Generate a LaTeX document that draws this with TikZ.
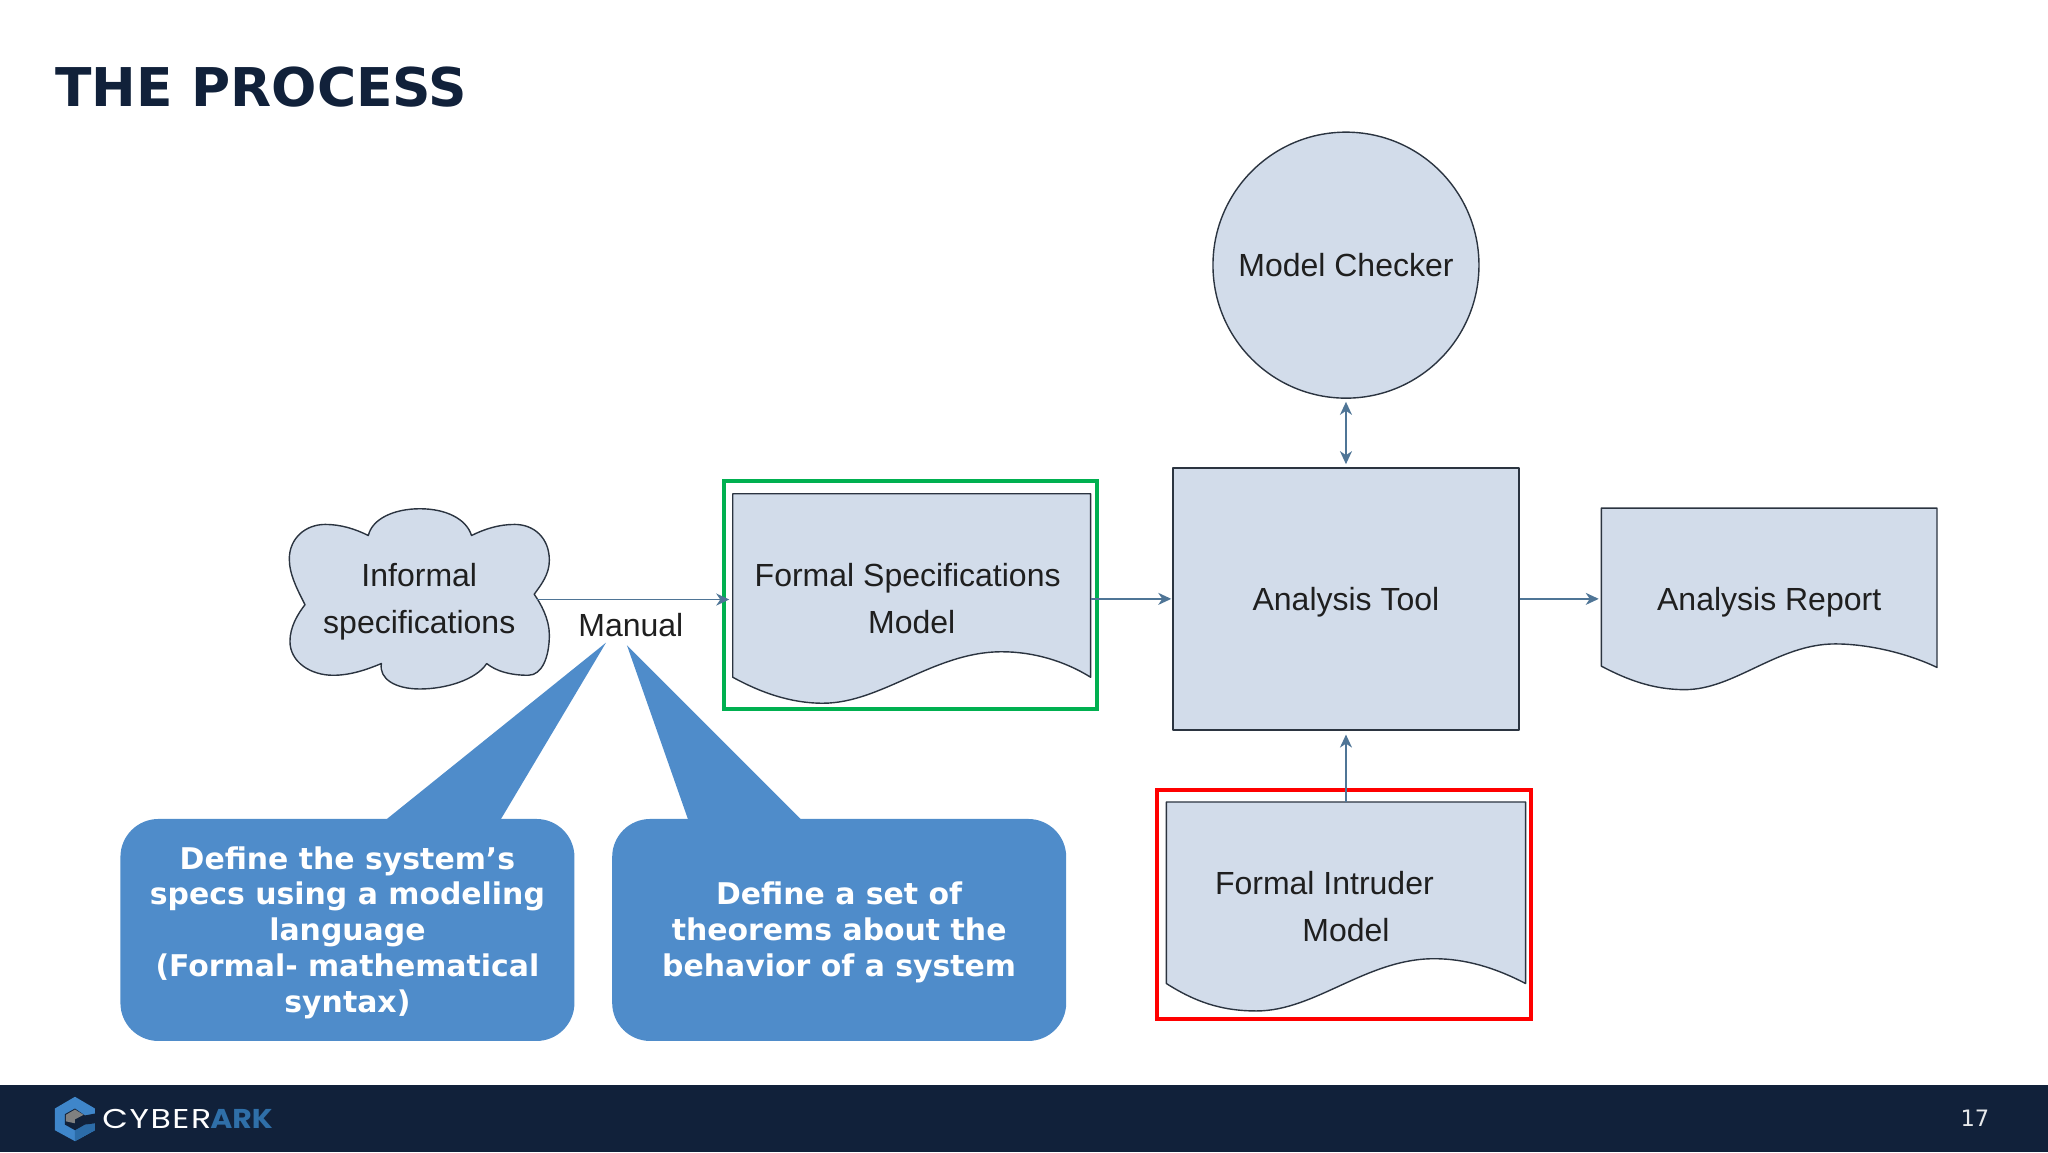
\documentclass[tikz,border=0pt]{standalone}
\usepackage{fontspec}
\setmainfont{Liberation Sans}
\newfontfamily\slidefont{DejaVu Sans}
\newfontfamily\cyberfont[FakeStretch=1.22,LetterSpace=6]{Poppins}
\newfontfamily\arkfont[FakeStretch=1.1]{Poppins}
\usetikzlibrary{arrows.meta}
\definecolor{navy}{HTML}{11213A}
\definecolor{shapefill}{HTML}{D2DCEA}
\definecolor{shapeline}{HTML}{2B3440}
\definecolor{wire}{HTML}{4F7596}
\definecolor{bubble}{HTML}{4F8CCA}
\definecolor{framegreen}{HTML}{00B050}
\definecolor{logoblue}{HTML}{3F86CA}
\definecolor{logodeep}{HTML}{2C6CA8}
\definecolor{arkblue}{HTML}{2F6FA8}
\tikzset{
  shapestyle/.style={draw=shapeline,fill=shapefill,line width=0.7pt,line join=round},
  labeltext/.style={font=\fontsize{16}{23.5}\selectfont,text=black!88,align=center,inner sep=0pt},
  docbox/.style={labeltext,minimum width=#1},
  wirearrow/.style={draw=wire,line width=0.9pt,>={Stealth[length=6.5pt,width=6pt,inset=2pt]}},
  bubbletext/.style={font=\slidefont\bfseries\fontsize{14.95}{17.9}\selectfont,text=white,align=center,inner sep=0pt},
  bubblebox/.style={fill=bubble,rounded corners=19pt,minimum width=227pt,minimum height=111pt,inner sep=0pt},
}
\begin{document}
\begin{tikzpicture}[x=0.65306pt,y=-0.65306pt]
\useasboundingbox (0,0) rectangle (1568,882);

% title
\node [font=\slidefont\bfseries\fontsize{26.7}{30}\selectfont,text=navy,anchor=base west,inner sep=0pt] (title) at (42,81.5) {THE PROCESS};

% footer band
\fill [navy] (0,831) rectangle (1568,882);
\node [font=\slidefont\fontsize{11.3}{14}\selectfont,text=white!90!navy,inner sep=0pt] (pagenum) at (1512,856) {17};

%% The logo
\fill [logoblue] (57.4,839.7) -- (72.7,848.7) -- (72.7,865.3) -- (57.4,873.7) -- (42,865.3) -- (42,848.7) -- cycle;
\fill [logodeep] (57.4,873.7) -- (72.7,865.3) -- (72.7,860) -- (65,861) -- (57.4,865.3) -- cycle;
\fill [navy] (73,852.5) -- (65,854) -- (57.4,848.7) -- (49.7,853) -- (49.7,861) -- (57.4,865.3) -- (65,861) -- (73,860) -- cycle;
\fill [gray] (50.5,853.5) -- (57.4,849.5) -- (64,853.5) -- (57.4,857) -- (57.4,860) -- (50.5,858.5) -- cycle;
\node [anchor=base west,inner sep=0pt,text=white] (logotext) at (78,863.7) {\fontsize{13.6}{16}\selectfont\cyberfont CYBER\kern-0.5pt\textcolor{arkblue}{\arkfont\bfseries ARK}};

%% The frames round the two models
\draw [framegreen,line width=2pt] (554,368) rectangle (840,543);
\draw [red,line width=2pt] (886,605) rectangle (1172,780);

%% The cloud
\draw [shapestyle] (233.5,463)
  .. controls (228,452) and (221.5,440) .. (221.5,428)
  .. controls (221.5,412) and (234,401.5) .. (249,401.5)
  .. controls (261,401.5) and (272,405) .. (282,410)
  .. controls (285,397) and (302,389.5) .. (321.5,389.5)
  .. controls (341,389.5) and (357,397) .. (361,410)
  .. controls (371,405) and (382,401.5) .. (394,401.5)
  .. controls (409,401.5) and (420.6,412) .. (420.6,429)
  .. controls (420.6,440) and (414,448) .. (409,455)
  .. controls (414,462) and (420.6,474) .. (420.6,486)
  .. controls (420.6,503) and (415,517) .. (404.5,517)
  .. controls (391,517) and (380,514) .. (372.6,508)
  .. controls (365,520) and (342,527.5) .. (321.5,527.5)
  .. controls (303,527.5) and (290,520) .. (292,508)
  .. controls (280,513) and (268,517) .. (255,517)
  .. controls (238,517) and (222,507) .. (222,491)
  .. controls (222,480) and (228,470) .. (233.5,463) -- cycle;
\node [labeltext] (informal) at (321,461) {Informal\\specifications};
\coordinate (cloudout) at (411,459);

\node [labeltext,anchor=base] (manual) at (483,487) {Manual};

%% The formal specifications document
\draw [shapestyle] (561,378) -- (835,378) -- (835,518.5)
  .. controls (815,506) and (791,499) .. (767,499)
  .. controls (715,499) and (675,538.4) .. (630,538.4)
  .. controls (605,538.4) and (582,530) .. (561,518.5) -- cycle;
\node [docbox=179pt,minimum height=104pt] (specmodel) at (698,458) {Formal Specifications\hspace*{4pt}\\Model};

%% The analysis tool and the checker
\node [shapestyle,labeltext,minimum width=173pt,minimum height=131pt,text height=11.5pt,text depth=0.3pt] (tool) at (1030.5,458.5) {Analysis Tool};
\node [shapestyle,labeltext,circle,minimum size=133pt] (checker) at (1030.5,203) {Model Checker};

%% The report
\draw [shapestyle] (1226,389) -- (1483,389) -- (1483,511)
  .. controls (1460,500) and (1430,493) .. (1405,493)
  .. controls (1361,493) and (1328,528) .. (1290,528)
  .. controls (1265,528) and (1245,520) .. (1226,510) -- cycle;
\node [docbox=168pt,minimum height=91pt,text height=11.5pt,text depth=0.3pt] (report) at (1354.5,458.5) {Analysis Report};

%% The intruder model
\draw [shapestyle] (893,614) -- (1168,614) -- (1168,753)
  .. controls (1145,741) and (1122,734) .. (1098,734)
  .. controls (1046,734) and (1007,774) .. (962,774)
  .. controls (935,774) and (915,767) .. (893,753) -- cycle;
\node [docbox=180pt,minimum height=104.5pt] (intruder) at (1030.5,694) {Formal Intruder\hspace*{21.6pt}\\Model};

%% The arrows
\draw [wirearrow,->,shorten >=1.5pt] (cloudout) -- (cloudout -| specmodel.west);
\draw [wirearrow,->,shorten >=0.5pt] (tool.west -| specmodel.east) -- (tool.west);
\draw [wirearrow,->,shorten >=1pt] (tool.east) -- (report.west);
\draw [wirearrow,<->,shorten >=1.5pt,shorten <=1.5pt] (tool.north) -- (checker.south);
\draw [wirearrow,->,shorten >=2pt] (intruder.north) -- (tool.south);

%% The two callouts
\fill [bubble] (295,628) -- (464,492) -- (383,628) -- cycle;
\fill [bubble] (527,628) -- (480,494) -- (614,628) -- cycle;
\node [bubblebox] (systembox) at (266,712) {};
\node [bubblebox] (theorembox) at (642.5,712) {};
\node [bubbletext,yshift=-1.3pt] (systemspecs) at (systembox.center) {Define the system’s\\specs using a modeling\\language\\(Formal- mathematical\\syntax)};
\node [bubbletext,yshift=-1.3pt] (theorems) at (theorembox.center) {Define a set of\\theorems about the\\behavior of a system};

\end{tikzpicture}
\end{document}
